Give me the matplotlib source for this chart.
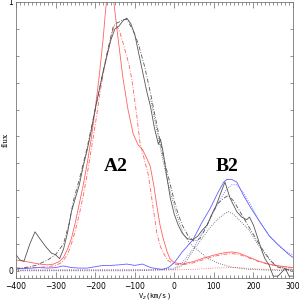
import matplotlib
matplotlib.use('Agg')
import matplotlib.pyplot as plt
from matplotlib.ticker import MultipleLocator, FixedLocator

# observed profile (black solid)
obs_v = [-400, -390, -380, -365, -352, -340, -325, -310, -300, -290, -280, -270, -260,
         -250, -240, -230, -220, -210, -200, -190, -180, -170, -160, -150, -140, -130,
         -120, -110, -100, -90, -80, -70, -60, -50, -45, -40, -35, -28, -20, -10, 0, 10,
         20, 32, 47, 60, 70, 83, 98, 105, 115, 128, 141, 158, 170, 183, 190, 200, 209,
         220, 229, 240, 250, 262, 275, 280, 290, 300]
obs_f = [0.06, 0.04, 0.035, 0.10, 0.145, 0.12, 0.09, 0.065, 0.06, 0.045, 0.08, 0.14, 0.22,
         0.27, 0.32, 0.39, 0.45, 0.52, 0.60, 0.67, 0.74, 0.80, 0.86, 0.90, 0.91, 0.93,
         0.94, 0.92, 0.88, 0.81, 0.74, 0.67, 0.61, 0.53, 0.50, 0.47, 0.49, 0.44, 0.36, 0.27, 0.21, 0.17,
         0.14, 0.12, 0.115, 0.13, 0.15, 0.17, 0.22, 0.24, 0.28, 0.33, 0.27, 0.22, 0.20, 0.19, 0.20, 0.17, 0.13,
         0.08, 0.045, 0.02, -0.02, -0.02, 0.0, 0.01, -0.02, -0.02]

# total model (black dash)
mod_v = [-400, -350, -320, -300, -280, -265, -255, -240, -230, -220, -200, -180, -165,
         -155, -148, -140, -130, -120, -110, -100, -90, -75, -60, -45, -30, -15, 0, 10,
         20, 35, 50, 65, 80, 95, 110, 125, 136, 150, 170, 190, 210, 225, 245, 260, 280, 300]
mod_f = [0.005, 0.02, 0.04, 0.06, 0.10, 0.18, 0.26, 0.34, 0.40, 0.46, 0.60, 0.74, 0.84,
         0.905, 0.92, 0.925, 0.935, 0.935, 0.91, 0.88, 0.84, 0.76, 0.66, 0.55, 0.44, 0.35, 0.26, 0.21,
         0.17, 0.13, 0.11, 0.12, 0.16, 0.21, 0.25, 0.27, 0.28, 0.26, 0.21, 0.16, 0.11, 0.075, 0.035, 0.015, 0.005, 0.003]

# A2 component (black dotted)
ca_v = [-60, -45, -30, -15, 0, 10, 22, 40, 65, 85, 108, 140, 190, 250, 300]
ca_f = [0.64, 0.53, 0.42, 0.32, 0.24, 0.19, 0.14, 0.10, 0.07, 0.045, 0.03, 0.015, 0.005, 0.002, 0.0]

# B2 component (black dotted)
cb_v = [-400, -100, 0, 20, 32, 50, 70, 90, 108, 125, 136, 150, 170, 190, 210, 225, 245, 260, 300]
cb_f = [0.0, 0.0, 0.005, 0.02, 0.04, 0.08, 0.12, 0.16, 0.19, 0.21, 0.22, 0.21, 0.18, 0.15, 0.10,
        0.07, 0.035, 0.015, 0.003]

# red line profiles
red_v = [-400, -380, -360, -340, -320, -305, -290, -280, -270, -260, -250, -240, -230, -220,
         -210, -200, -190, -180, -173, -168, -163, -158, -152, -145, -140, -130, -117, -104,
         -92, -80, -70, -61, -52, -44, -36, -28, -18, -11, 0, 20, 50, 80, 110, 130, 146, 165,
         190, 215, 240, 270, 300]
red_f = [0.04, 0.036, 0.03, 0.025, 0.022, 0.025, 0.035, 0.05, 0.08, 0.12, 0.18, 0.25, 0.32, 0.40,
         0.49, 0.60, 0.72, 0.86, 0.98, 1.03, 1.05, 1.04, 0.99, 0.90, 0.84, 0.72, 0.60, 0.51,
         0.47, 0.45, 0.42, 0.39, 0.32, 0.24, 0.17, 0.12, 0.07, 0.045, 0.03, 0.025, 0.035, 0.05, 0.062, 0.068, 0.07, 0.065,
         0.05, 0.035, 0.025, 0.017, 0.012]

redm_v = [-400, -350, -320, -300, -285, -270, -260, -250, -240, -230, -220, -210, -200, -190,
          -180, -170, -160, -152, -145, -138, -130, -115, -107, -95, -87, -75, -66, -58, -50,
          -44, -35, -25, -18, 0, 20, 50, 80, 110, 130, 146, 165, 190, 215, 240, 270, 300]
redm_f = [0.01, 0.012, 0.015, 0.02, 0.03, 0.06, 0.10, 0.15, 0.21, 0.28, 0.36, 0.45, 0.54, 0.64,
          0.73, 0.81, 0.87, 0.91, 0.91, 0.89, 0.85, 0.77, 0.71, 0.58, 0.48, 0.41, 0.36, 0.28, 0.20,
          0.14, 0.09, 0.06, 0.04, 0.025, 0.022, 0.03, 0.045, 0.057, 0.062, 0.064, 0.06, 0.047, 0.033, 0.023, 0.015, 0.01]

redc_v = [-400, -200, 0, 60, 100, 140, 180, 220, 300]
redc_f = [0.003, 0.003, 0.003, 0.006, 0.010, 0.012, 0.010, 0.006, 0.003]

# blue line profiles
blue_v = [-400, -380, -360, -340, -320, -300, -280, -260, -240, -220, -200, -180, -160, -140,
          -120, -100, -80, -60, -45, -30, -15, 0, 20, 47, 70, 90, 110, 125, 133, 145, 158, 175,
          195, 217, 240, 260, 275, 290, 300]
blue_f = [0.01, 0.008, 0.01, 0.012, 0.01, 0.012, 0.018, 0.012, 0.01, 0.01, 0.015, 0.02, 0.02, 0.022,
          0.025, 0.02, 0.025, 0.012, 0.008, 0.005, 0.012, 0.03, 0.07, 0.115, 0.18, 0.23, 0.29, 0.33, 0.34,
          0.34, 0.33, 0.28, 0.23, 0.18, 0.13, 0.10, 0.08, 0.06, 0.05]

bluem_v = [-400, -200, -50, 0, 20, 47, 70, 90, 110, 130, 145, 158, 175, 195, 217, 240, 260, 275, 290, 300]
bluem_f = [0.002, 0.003, 0.004, 0.01, 0.03, 0.08, 0.14, 0.19, 0.25, 0.30, 0.32, 0.32, 0.29, 0.24,
           0.18, 0.13, 0.10, 0.08, 0.065, 0.06]

blk = '#555555'
red = '#ff6060'
blue = '#6060ff'

fig = plt.figure(figsize=(2.99, 3.01), dpi=100)
ax = fig.add_axes([16 / 299, 1 - 277.5 / 301, 277 / 299, 275.5 / 301])

ax.plot(red_v, red_f, color=red, lw=0.6)
ax.plot(redm_v, redm_f, color=red, lw=0.6, ls=(0, (5, 2, 1, 2)))
ax.plot(redc_v, redc_f, color=red, lw=0.6, ls=':')
ax.plot(blue_v, blue_f, color=blue, lw=0.6)
ax.plot(bluem_v, bluem_f, color=blue, lw=0.6, ls=':')
ax.plot(obs_v, obs_f, color=blk, lw=0.6)
ax.plot(mod_v, mod_f, color=blk, lw=0.6, ls=(0, (5, 2, 1, 2)))
ax.plot(ca_v, ca_f, color=blk, lw=0.6, ls=':')
ax.plot(cb_v, cb_f, color=blk, lw=0.6, ls=':')

ax.text(-147, 0.387, 'A2', fontsize=14, fontweight='bold', family='Liberation Serif',
        ha='center', va='center')
ax.text(134, 0.387, 'B2', fontsize=14, fontweight='bold', family='Liberation Serif',
        ha='center', va='center')

ax.set_xlim(-400, 300)
ax.set_ylim(-0.025, 1.0)
ax.xaxis.set_major_locator(MultipleLocator(100))
ax.xaxis.set_minor_locator(MultipleLocator(10))
ax.yaxis.set_major_locator(FixedLocator([0, 1]))
ax.yaxis.set_minor_locator(MultipleLocator(0.1))
ax.tick_params(which='both', direction='in', top=True, right=True, width=0.5, colors='#666666',
               labelcolor='black', labelsize=5.5, pad=3)
ax.tick_params(which='major', length=4)
ax.tick_params(which='minor', length=2)
ax.tick_params(axis='y', which='major', length=2, pad=2)
for s in ax.spines.values():
    s.set_linewidth(0.6)
    s.set_color('#777777')

ax.set_xlabel('V$_z$(km/s)', fontsize=5, family='DejaVu Sans Mono')
ax.xaxis.set_label_coords(0.5, -0.05)
ax.set_ylabel('flux', fontsize=5.5, family='DejaVu Serif', labelpad=-1)

fig.savefig('out.png', dpi=100)
